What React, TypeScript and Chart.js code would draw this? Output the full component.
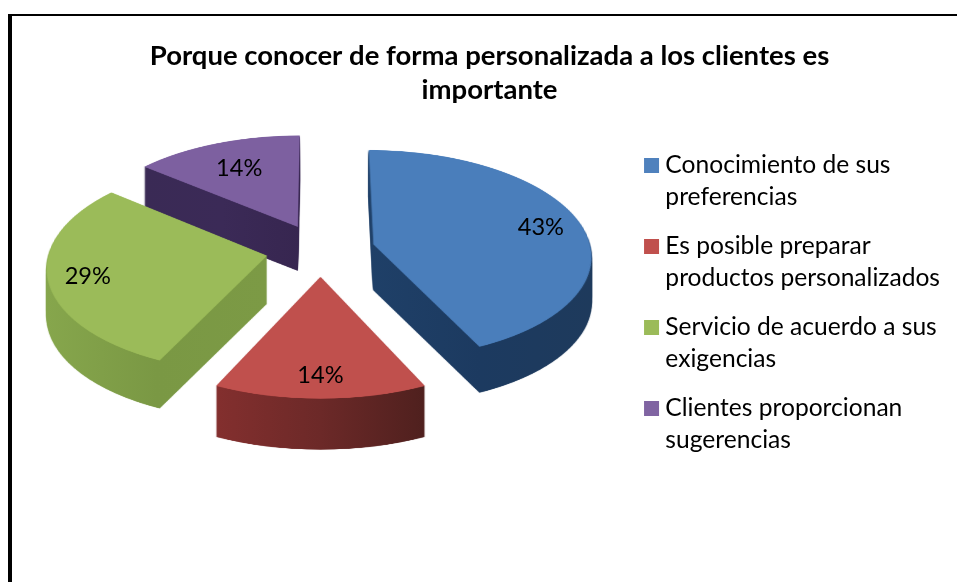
import { useEffect, useRef } from "react";
import { Chart, registerables } from "chart.js";

Chart.register(...registerables);

const titleLines = ["Porque conocer de forma personalizada a los clientes es", "importante"];
const categories = [
  ["Conocimiento de sus", "preferencias"],
  ["Es posible preparar", "productos personalizados"],
  ["Servicio de acuerdo a sus", "exigencias"],
  ["Clientes proporcionan", "sugerencias"],
];
const values = [43, 14, 29, 14];
const colors = ["#4a7ebb", "#c0504d", "#9bbb59", "#7d60a0"];
const legendColors = ["#4f81bd", "#c0504d", "#9bbb59", "#8064a2"];
const wallStops = [
  ["#1f4068", "#1c3a60", "#1e3a5c"],
  ["#832f2e", "#6c2928", "#4f201e"],
  ["#86a64c", "#7a9844", "#7c9a45"],
  ["#3a2a55", "#3b2a57", "#372650"],
];
const labelRadii = [0.81, 0.81, 0.82, 0.7];
const drawOrder = [3, 0, 2, 1];

// Projection of the pie's plane onto the screen
const CX = 320.5, CY = 250.0, RX = 217.8, RY = 104.5, PERSP = 0.097, EXPLODE = 0.25, DEPTH = 47;
const W = 957, H = 582;
const FONT = "Lato, Carlito, sans-serif";

const project = (X: number, Y: number) => {
  const d = 1 - PERSP * Y;
  return { x: CX + (RX * X) / d, y: CY + (RY * Y) / d };
};

const makeCanvas = (w: number, h: number) => {
  const c = document.createElement("canvas");
  c.width = w;
  c.height = h;
  return c;
};

const pie3d = {
  id: "pie3d",
  beforeDatasetDraw(chart: any) {
    const ctx = chart.ctx;
    const arcs = chart.getDatasetMeta(0).data;
    const SRC = 900, UNIT = 300, C0 = SRC / 2;
    for (const i of drawOrder) {
      const arc = arcs[i];
      const mid = (arc.startAngle + arc.endAngle) / 2;
      const ex = Math.cos(mid) * EXPLODE, ey = Math.sin(mid) * EXPLODE;
      const src = makeCanvas(SRC, SRC);
      const sctx = src.getContext("2d")!;
      const k = UNIT / arc.outerRadius;
      sctx.translate(C0 + ex * UNIT, C0 + ey * UNIT);
      sctx.scale(k, k);
      sctx.translate(-arc.x, -arc.y);
      arc.draw(sctx);

      // warp the flat slice into screen space, one pixel row at a time
      const top = makeCanvas(W, H);
      const tctx = top.getContext("2d")!;
      tctx.imageSmoothingQuality = "high";
      for (let row = 0; row < H; row++) {
        const t = row + 0.5 - CY;
        const denom = RY + PERSP * t;
        if (denom <= 0) continue;
        const Y = t / denom;
        if (Math.abs(Y) > 1.45) continue;
        const sx = RX / (1 - PERSP * Y);
        const dYdt = RY / (denom * denom);
        const sy = C0 + Y * UNIT;
        const sh = Math.max(dYdt * UNIT, 0.5);
        tctx.drawImage(src, 0, sy - sh / 2, SRC, sh, CX - (sx * C0) / UNIT, row, (SRC * sx) / UNIT, 1);
      }

      // extrude the silhouette down for the wall
      const a0 = arc.startAngle, a1 = arc.endAngle;
      let minX = Infinity, maxX = -Infinity;
      for (let s = 0; s <= 24; s++) {
        const a = a0 + ((a1 - a0) * s) / 24;
        const p = project(ex + Math.cos(a), ey + Math.sin(a));
        minX = Math.min(minX, p.x);
        maxX = Math.max(maxX, p.x);
      }
      const apex = project(ex, ey);
      minX = Math.min(minX, apex.x);
      maxX = Math.max(maxX, apex.x);
      const meanY = ey + Math.sin(mid) * 0.6;
      const depth = Math.round(DEPTH / (1 - PERSP * meanY));
      const wall = makeCanvas(W, H);
      const wctx = wall.getContext("2d")!;
      for (let d = depth; d >= 1; d--) wctx.drawImage(top, 0, d);
      wctx.globalCompositeOperation = "source-in";
      const g = wctx.createLinearGradient(minX, 0, maxX, 0);
      wallStops[i].forEach((c, n) => g.addColorStop(n / (wallStops[i].length - 1), c));
      wctx.fillStyle = g;
      wctx.fillRect(0, 0, W, H);

      ctx.drawImage(wall, 0, 0);
      ctx.drawImage(top, 0, 0);
    }
    return false;
  },
  afterDatasetsDraw(chart: any) {
    const ctx = chart.ctx;
    const arcs = chart.getDatasetMeta(0).data;
    ctx.save();
    ctx.font = `23.6px ${FONT}`;
    ctx.fillStyle = "#000";
    ctx.textAlign = "center";
    ctx.textBaseline = "middle";
    arcs.forEach((arc: any, i: number) => {
      const mid = (arc.startAngle + arc.endAngle) / 2;
      const r = EXPLODE + labelRadii[i];
      const p = project(Math.cos(mid) * r, Math.sin(mid) * r);
      ctx.fillText(`${values[i]}%`, p.x, p.y + 1.5);
    });
    ctx.restore();
  },
};

export default function App() {
  const ref = useRef<HTMLCanvasElement>(null);
  useEffect(() => {
    const chart = new Chart(ref.current!, {
      type: "pie",
      data: {
        labels: categories as any,
        datasets: [{ data: values, backgroundColor: colors, borderWidth: 0 }],
      },
      plugins: [pie3d],
      options: {
        animation: false,
        responsive: false,
        events: [],
        layout: { padding: { left: 29, top: 39, right: 7, bottom: 0 } },
        plugins: {
          title: {
            display: true,
            text: titleLines,
            color: "#000",
            font: { family: FONT, size: 27.5, weight: "bold", lineHeight: 1.24 },
            padding: { top: 0, bottom: 29 },
          },
          legend: {
            position: "right",
            align: "start",
            fullSize: false,
            labels: {
              color: "#000",
              font: { family: FONT, size: 24.6, lineHeight: 1.3 },
              boxWidth: 3,
              boxHeight: 3,
              padding: 17,
              generateLabels: () =>
                categories.map((text, i) => ({
                  text: text as any,
                  fillStyle: legendColors[i],
                  strokeStyle: legendColors[i],
                  lineWidth: 12,
                  hidden: false,
                  index: i,
                })),
            },
          },
          tooltip: { enabled: false },
        },
      } as any,
    });
    return () => chart.destroy();
  }, []);
  return (
    <div style={{ position: "fixed", left: 0, top: 0, width: W, height: H, overflow: "hidden", background: "#fff" }}>
      <div
        style={{
          position: "absolute",
          left: 8,
          top: 14,
          width: W,
          height: H,
          borderLeft: "4px solid #000",
          borderTop: "2px solid #000",
        }}
      />
      <canvas ref={ref} width={W} height={H} style={{ position: "absolute", left: 0, top: 0 }} />
    </div>
  );
}
